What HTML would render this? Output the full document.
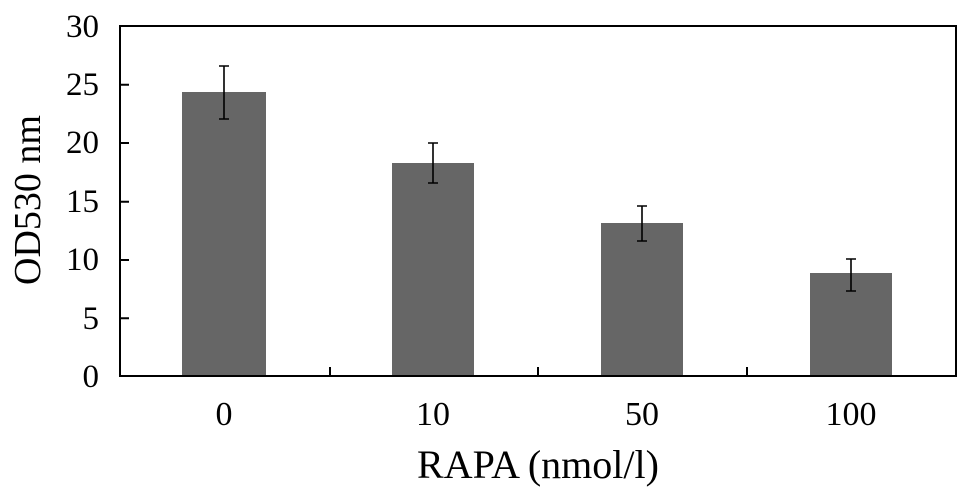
<!DOCTYPE html>
<html><head><style>body{margin:0;background:#fff}</style></head><body>
<svg width="969" height="496" xmlns="http://www.w3.org/2000/svg" font-family="Liberation Serif, serif">
<rect width="969" height="496" fill="#fff"/>
<g fill="#666">
<rect x="182" y="92" width="84" height="284"/>
<rect x="392" y="163" width="82" height="213"/>
<rect x="601" y="223" width="82" height="153"/>
<rect x="810" y="273" width="82" height="103"/>
</g>
<g stroke="#000" stroke-width="2" fill="none">
<path d="M120 26 H956 V376 H120 Z"/>
<path d="M120 84.7h9M120 143h9M120 201.7h9M120 260h9M120 318.3h9"/>
<path d="M330 376v-9M538 376v-9M747 376v-9"/>
</g>
<g stroke="#000" stroke-width="1.6">
<path d="M224 66v53M219 66h10M219 119h10"/>
<path d="M433 143v40M428 143h10M428 183h10"/>
<path d="M642 206v35M637 206h10M637 241h10"/>
<path d="M851 259v32M846 259h10M846 291h10"/>
</g>
<g font-size="33" text-anchor="end" fill="#000">
<text x="99" y="37">30</text><text x="99" y="95">25</text><text x="99" y="153">20</text>
<text x="99" y="212">15</text><text x="99" y="270">10</text><text x="99" y="329">5</text><text x="99" y="387">0</text>
</g>
<g font-size="34" text-anchor="middle" fill="#000">
<text x="224" y="425">0</text><text x="433" y="425">10</text><text x="642" y="425">50</text><text x="851" y="425">100</text>
</g>
<text x="538" y="478" font-size="40" text-anchor="middle">RAPA (nmol/l)</text>
<text transform="translate(40,200) rotate(-90)" font-size="38" text-anchor="middle">OD530 nm</text>
</svg>
</body></html>
